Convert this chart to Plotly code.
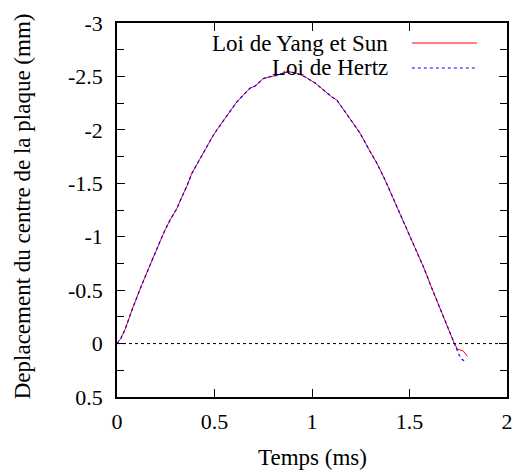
import plotly.graph_objects as go

# ---- data ----
temps_yang = [0.0, 0.02, 0.041, 0.08, 0.127, 0.17, 0.212, 0.238, 0.27, 0.306, 0.332, 0.36, 0.383,
              0.422, 0.46, 0.494, 0.52, 0.554, 0.585, 0.614, 0.65, 0.682, 0.708, 0.75, 0.78, 0.819,
              0.85, 0.879, 0.921, 0.96, 1.015, 1.06, 1.10, 1.127, 1.178, 1.215, 1.246, 1.297, 1.332,
              1.375, 1.417, 1.468, 1.52, 1.571, 1.614, 1.656, 1.699, 1.73, 1.745, 1.76, 1.776, 1.797]
dep_yang = [0.0, -0.05, -0.13, -0.33, -0.55, -0.74, -0.92, -1.03, -1.15, -1.26, -1.37, -1.48, -1.59,
            -1.72, -1.85, -1.95, -2.02, -2.11, -2.19, -2.26, -2.33, -2.39, -2.41, -2.48, -2.495, -2.51,
            -2.53, -2.545, -2.53, -2.50, -2.44, -2.37, -2.31, -2.28, -2.15, -2.05, -1.97, -1.80, -1.69,
            -1.53, -1.36, -1.14, -0.94, -0.72, -0.52, -0.33, -0.14, 0.0, 0.05, 0.06, 0.07, 0.12]

temps_hertz = temps_yang[:48] + [1.745, 1.755, 1.77, 1.79]
dep_hertz = dep_yang[:48] + [0.06, 0.11, 0.15, 0.17]

x_ticks = [0, 0.5, 1, 1.5, 2]
x_labels = ["0", "0.5", "1", "1.5", "2"]
y_ticks = [-3, -2.5, -2, -1.5, -1, -0.5, 0, 0.5]
y_labels = ["-3", "-2.5", "-2", "-1.5", "-1", "-0.5", "0", "0.5"]

series_names = ["Loi de Yang et Sun", "Loi de Hertz"]
series_colors = ["#ff0000", "#0000ff"]
series_dash = ["solid", "dot"]

x_title = "Temps (ms)"
y_title = "Deplacement du centre de la plaque (mm)"

FONT = "Liberation Serif, Times New Roman, serif"
tick_font = dict(family=FONT, size=22, color="black")
title_font = dict(family=FONT, size=23, color="black")

fig = go.Figure()
fig.add_trace(go.Scatter(x=temps_yang, y=dep_yang, mode="lines", name=series_names[0],
                         line=dict(color=series_colors[0], width=1, dash=series_dash[0]),
                         showlegend=False))
fig.add_trace(go.Scatter(x=temps_hertz, y=dep_hertz, mode="lines", name=series_names[1],
                         line=dict(color=series_colors[1], width=1.2, dash=series_dash[1]),
                         showlegend=False))

# zero axis (dotted)
fig.add_shape(type="line", xref="paper", x0=0, x1=1, yref="y", y0=0, y1=0,
              line=dict(color="black", width=1, dash="dot"), layer="below")

# legend drawn like gnuplot (text right-aligned, sample on the right)
leg_y = [0.9465, 0.8797]
for name, col, dash, ly in zip(series_names, series_colors, series_dash, leg_y):
    fig.add_annotation(x=0.70, y=ly, xref="paper", yref="paper", text=name, showarrow=False,
                       xanchor="right", yanchor="middle", font=title_font)
    fig.add_shape(type="line", xref="paper", yref="paper", x0=0.756, x1=0.923, y0=ly, y1=ly,
                  line=dict(color=col, width=1.2, dash=dash))

# axis titles
fig.add_annotation(x=0.5, y=-0.163, xref="paper", yref="paper", text=x_title, showarrow=False,
                   xanchor="center", yanchor="middle", font=title_font)
fig.add_annotation(x=-0.2436, y=0.51, xref="paper", yref="paper", text=y_title, showarrow=False,
                   xanchor="center", yanchor="middle", textangle=-90, font=title_font)

fig.update_layout(
    width=515, height=475,
    margin=dict(l=117, r=8, t=23, b=78, autoexpand=False),
    paper_bgcolor="white", plot_bgcolor="white",
    font=dict(family=FONT, size=22, color="black"),
    xaxis=dict(range=[0, 2], tickvals=x_ticks, ticktext=x_labels, ticks="inside", ticklen=8,
               tickwidth=1, tickcolor="black", showline=True, linecolor="black", linewidth=1.5,
               mirror="allticks", showgrid=False, zeroline=False, tickfont=tick_font,
               automargin=False, ticklabelstandoff=4),
    yaxis=dict(range=[0.5, -3], tickvals=y_ticks, ticktext=y_labels, ticks="inside", ticklen=8,
               tickwidth=1, tickcolor="black", showline=True, linecolor="black", linewidth=1.5,
               mirror="allticks", showgrid=False, zeroline=False, ticklabelstandoff=8,
               tickfont=tick_font, automargin=False,
               minor=dict(dtick=0.25, ticks="inside", ticklen=7, tickcolor="black", tickwidth=1)),
)

fig.write_html("out.html")
